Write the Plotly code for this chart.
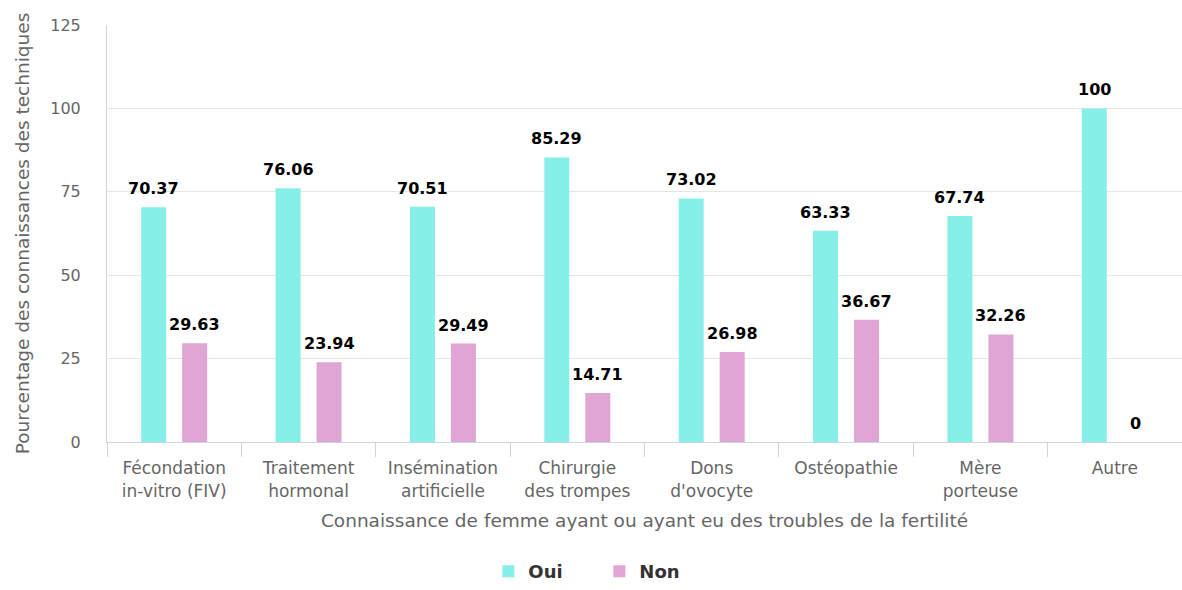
import plotly.graph_objects as go

categories = [
    "Fécondation<br>in-vitro (FIV)",
    "Traitement<br>hormonal",
    "Insémination<br>artificielle",
    "Chirurgie<br>des trompes",
    "Dons<br>d'ovocyte",
    "Ostéopathie",
    "Mère<br>porteuse",
    "Autre",
]
oui = [70.37, 76.06, 70.51, 85.29, 73.02, 63.33, 67.74, 100]
non = [29.63, 23.94, 29.49, 14.71, 26.98, 36.67, 32.26, 0]

series = [("Oui", oui, "#86efe8", -20.5), ("Non", non, "#dfa5d3", 20.5)]

fig = go.Figure()
for name, values, color, _ in series:
    fig.add_trace(go.Bar(name=name, x=categories, y=values, marker_color=color,
                         marker_line_width=0))

# value labels above each bar
for name, values, color, shift in series:
    for cat, v in zip(categories, values):
        fig.add_annotation(
            x=cat, y=v, xref="x", yref="y", text=f"{v:g}", showarrow=False,
            xshift=shift, yshift=7, yanchor="bottom",
            font=dict(family="DejaVu Sans", size=16, color="#000000", weight="bold"),
        )

fig.update_layout(
    width=1182, height=590,
    margin=dict(l=107, r=0, t=25, b=145),
    paper_bgcolor="white", plot_bgcolor="white",
    barmode="group", bargap=0.39, bargroupgap=0.39,
    font=dict(family="DejaVu Sans", color="#666666"),
    showlegend=True,
    legend=dict(
        orientation="h", x=0.458, xanchor="center", y=-0.312, yanchor="middle",
        font=dict(size=18, color="#333333", weight="bold"),
        itemwidth=30, entrywidth=66, entrywidthmode="pixels",
    ),
)
fig.update_xaxes(
    title=dict(text="Connaissance de femme ayant ou ayant eu des troubles de la fertilité",
               font=dict(size=18.5, color="#666666"), standoff=14),
    tickfont=dict(size=17, color="#666666"),
    showline=True, linecolor="#ccd6eb", linewidth=1,
    ticks="outside", tickson="boundaries", ticklen=14, tickcolor="#ccd6eb",
    ticklabelstandoff=11,
    showgrid=False,
)
fig.update_yaxes(
    title=dict(text="Pourcentage des connaissances des techniques",
               font=dict(size=18.5, color="#666666"), standoff=15),
    range=[0, 125], dtick=25, tickfont=dict(size=16, color="#666666"),
    showgrid=True, gridcolor="#e6e6e6", zeroline=False,
    showline=True, linecolor="#ccd6eb", ticks="",
    ticklabelstandoff=22,
)

fig.write_html("out.html")
